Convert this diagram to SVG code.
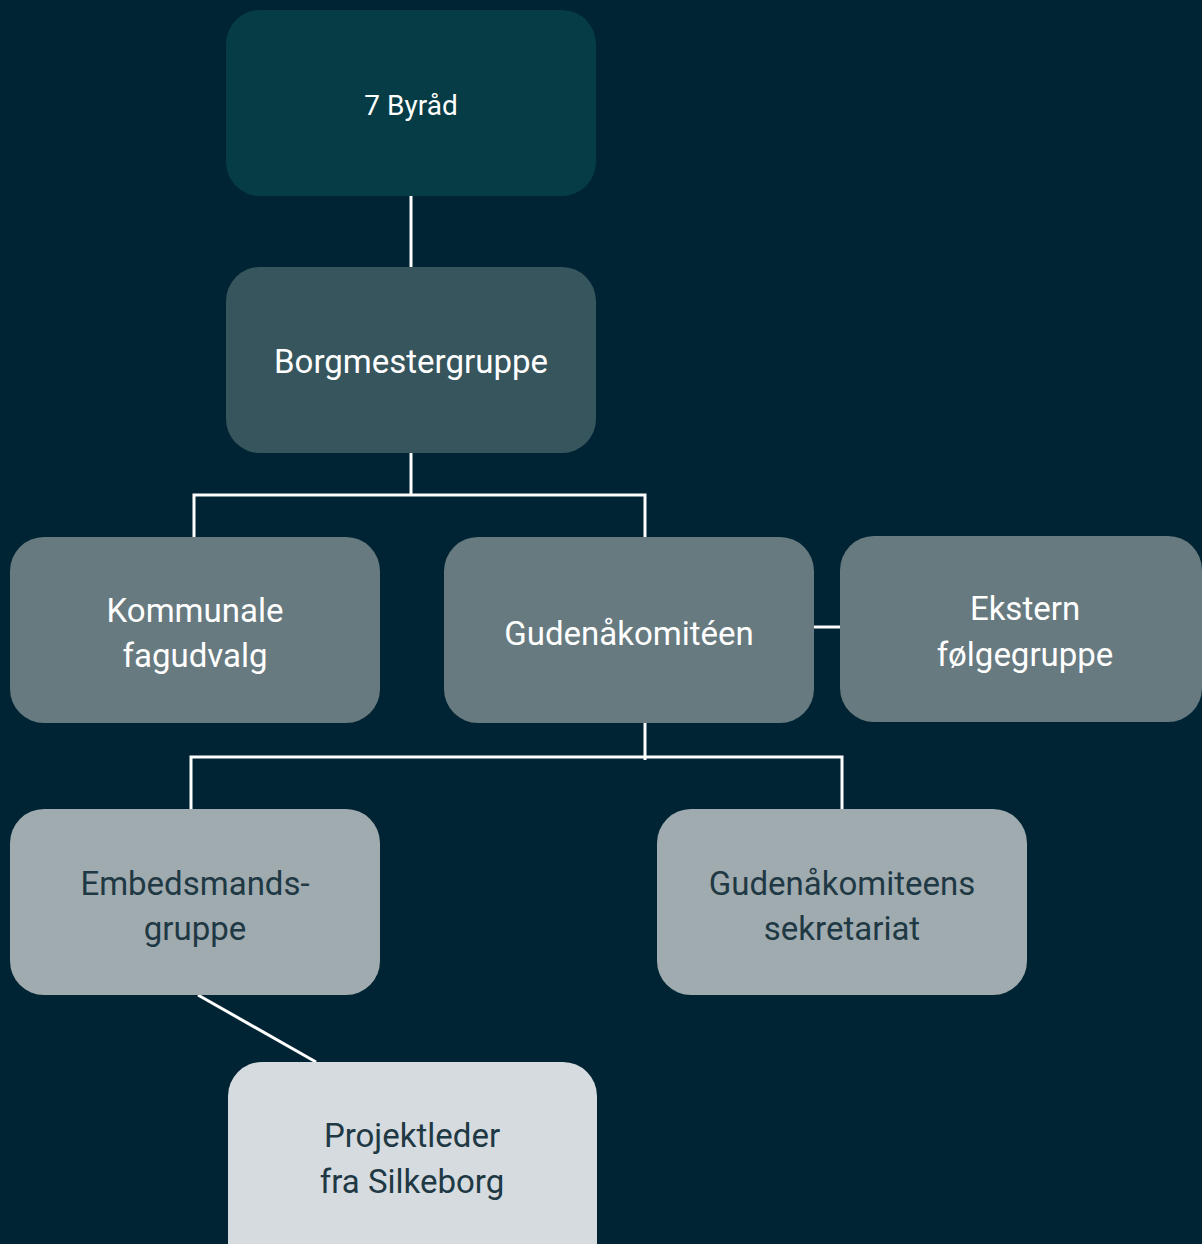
<svg xmlns="http://www.w3.org/2000/svg" width="1202" height="1244" viewBox="0 0 1202 1244">
<style>
.t{font-family:Roboto,"Noto Sans","Liberation Sans",sans-serif;font-size:33px;text-anchor:middle;fill:#ffffff}
.d{fill:#1f3944}
.c{stroke:#ffffff;stroke-width:3;fill:none}
</style>
<rect width="1202" height="1244" fill="#002433"/>
<g id="connectors">
<line class="c" x1="411" y1="196" x2="411" y2="267"/>
<polyline class="c" points="411,453 411,495"/>
<polyline class="c" points="194,537 194,495 645,495 645,537"/>
<line class="c" x1="814" y1="627" x2="840" y2="627"/>
<polyline class="c" points="645,723 645,760"/>
<polyline class="c" points="191,809 191,757 842,757 842,809"/>
<line class="c" x1="198" y1="995" x2="316" y2="1062"/>
</g>
<g id="byraad">
<rect x="226" y="10" width="370" height="186" rx="34" fill="#053c45"/>
<text class="t" x="411" y="115" style="font-size:28px">7 Byråd</text>
</g>
<g id="borgmestergruppe">
<rect x="226" y="267" width="370" height="186" rx="34" fill="#37555c"/>
<text class="t" x="411" y="373">Borgmestergruppe</text>
</g>
<g id="kommunale">
<rect x="10" y="537" width="370" height="186" rx="34" fill="#677a80"/>
<text class="t" x="195" y="622">Kommunale</text>
<text class="t" x="195" y="667">fagudvalg</text>
</g>
<g id="gudenaakomiteen">
<rect x="444" y="537" width="370" height="186" rx="34" fill="#677a80"/>
<text class="t" x="629" y="645">Gudenåkomitéen</text>
</g>
<g id="ekstern">
<rect x="840" y="536" width="362" height="186" rx="34" fill="#677a80"/>
<text class="t" x="1025" y="620">Ekstern</text>
<text class="t" x="1025" y="666">følgegruppe</text>
</g>
<g id="embedsmandsgruppe">
<rect x="10" y="809" width="370" height="186" rx="34" fill="#a0abb0"/>
<text class="t d" x="195" y="895">Embedsmands-</text>
<text class="t d" x="195" y="940">gruppe</text>
</g>
<g id="sekretariat">
<rect x="657" y="809" width="370" height="186" rx="34" fill="#a0abb0"/>
<text class="t d" x="842" y="895">Gudenåkomiteens</text>
<text class="t d" x="842" y="940">sekretariat</text>
</g>
<g id="projektleder">
<rect x="228" y="1062" width="369" height="220" rx="34" fill="#d5dbdf"/>
<text class="t d" x="412" y="1147">Projektleder</text>
<text class="t d" x="412" y="1193">fra Silkeborg</text>
</g>
</svg>
